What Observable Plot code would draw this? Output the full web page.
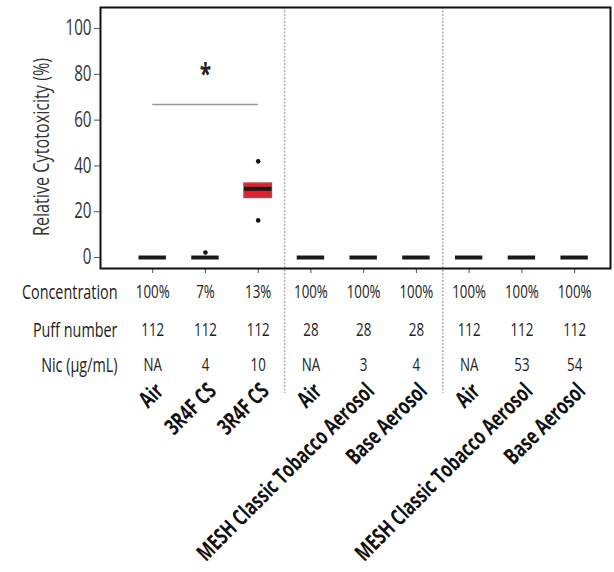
<!DOCTYPE html>
<html>
<head>
<meta charset="utf-8">
<script src="https://cdn.jsdelivr.net/npm/d3@7"></script>
<script src="https://cdn.jsdelivr.net/npm/@observablehq/plot@0.6"></script>
<style>
  html, body { margin: 0; padding: 0; background: #fff; }
  svg { display: block; }
</style>
</head>
<body>
<div id="chart"></div>
<script>
// ---- data ----
const categories = ["Air", "3R4F CS", "3R4F CS", "Air", "MESH Classic Tobacco Aerosol", "Base Aerosol", "Air", "MESH Classic Tobacco Aerosol", "Base Aerosol"];
const concentration = ["100%", "7%", "13%", "100%", "100%", "100%", "100%", "100%", "100%"];
const puffNumber = ["112", "112", "112", "28", "28", "28", "112", "112", "112"];
const nicotine = ["NA", "4", "10", "NA", "3", "4", "NA", "53", "54"];
const q1 = [0, 0, 26, 0, 0, 0, 0, 0, 0];
const median = [0, 0, 30, 0, 0, 0, 0, 0, 0];
const q3 = [0, 0, 32.3, 0, 0, 0, 0, 0, 0];
const outliers = [
  {i: 1, v: 2.2},
  {i: 2, v: 42},
  {i: 2, v: 16.2}
];
const rowLabels = ["Concentration", "Puff number", "Nic (µg/mL)"];
const yTicks = [0, 20, 40, 60, 80, 100];
const groupDividers = [2.5, 5.5];
const significance = {x1: 0, x2: 2, y: 66.8, label: "*", labelY: 82};

// ---- derived table ----
const idx = categories.map((_, i) => i);
const rows = idx.map(i => ({i, cat: categories[i], conc: concentration[i], puff: puffNumber[i], nic: nicotine[i], q1: q1[i], med: median[i], q3: q3[i]}));
const hw = 0.26; // half box width in category units
const rowDy = [24, 62, 97];
const SQUEEZE = 0.72;

const FONT = "'Open Sans', 'Noto Sans', 'DejaVu Sans', sans-serif";

const chart = Plot.plot({
  width: 614,
  height: 572,
  marginLeft: 100,
  marginRight: 4,
  marginTop: 7,
  marginBottom: 304,
  style: {fontFamily: FONT, fontSize: "18px", color: "#222", background: "#fff"},
  x: {type: "linear", domain: [-0.99, 8.68], axis: null},
  y: {domain: [-4.8, 109.2], axis: null},
  marks: [
    // group dividers
    Plot.ruleX(groupDividers, {stroke: "#b0b0b0", strokeWidth: 1.5, strokeDasharray: "2,1.5", insetBottom: -125}),
    // y axis
    Plot.axisY({ticks: yTicks, tickSize: 6, tickPadding: 3, fontSize: 21, stroke: "#555", color: "#333", label: null}),
    Plot.text(["Relative Cytotoxicity (%)"], {frameAnchor: "left", textAnchor: "middle", lineAnchor: "middle", dx: -59, dy: 9, rotate: -90, fontSize: 22.5, fill: "#333"}),
    // x ticks
    Plot.axisX({ticks: idx, tickSize: 5, tickFormat: () => "", stroke: "#555", label: null}),
    // significance bar
    Plot.ruleY([significance], {y: "y", x1: d => d.x1, x2: d => d.x2, stroke: "#999", strokeWidth: 1.5}),
    Plot.text([significance], {x: d => (d.x1 + d.x2) / 2, y: "labelY", text: "label", lineAnchor: "middle", dy: 5, fontSize: 29, fontWeight: "bold", fill: "#222"}),
    // boxes
    Plot.rect(rows.filter(d => d.q3 > d.q1), {x1: d => d.i - hw, x2: d => d.i + hw, y1: "q1", y2: "q3", fill: "#e3202a", stroke: "#a0504f", strokeWidth: 1.5}),
    Plot.ruleY(rows, {y: "med", x1: d => d.i - hw, x2: d => d.i + hw, stroke: "#1a1a1a", strokeWidth: 4}),
    Plot.dot(outliers, {x: "i", y: "v", r: 2.3, fill: "#111", stroke: null}),
    // frame
    Plot.frame({stroke: "#111", strokeWidth: 2}),
    // table rows
    Plot.text(rows, {x: "i", text: "conc", frameAnchor: "bottom", lineAnchor: "middle", dy: rowDy[0], fontSize: 18.5, fill: "#222"}),
    Plot.text(rows, {x: "i", text: "puff", frameAnchor: "bottom", lineAnchor: "middle", dy: rowDy[1], fontSize: 18.5, fill: "#222"}),
    Plot.text(rows, {x: "i", text: "nic", frameAnchor: "bottom", lineAnchor: "middle", dy: rowDy[2], fontSize: 18.5, fill: "#222"}),
    Plot.text([rowLabels[0]], {frameAnchor: "bottom-left", textAnchor: "end", lineAnchor: "middle", dx: 17, dy: rowDy[0], fontSize: 20, fill: "#222"}),
    Plot.text([rowLabels[1]], {frameAnchor: "bottom-left", textAnchor: "end", lineAnchor: "middle", dx: 17, dy: rowDy[1], fontSize: 20, fill: "#222"}),
    Plot.text([rowLabels[2]], {frameAnchor: "bottom-left", textAnchor: "end", lineAnchor: "middle", dx: 17, dy: rowDy[2], fontSize: 20, fill: "#222"}),
    // category labels
    Plot.text(rows, {x: "i", text: "cat", frameAnchor: "bottom", textAnchor: "end", lineAnchor: "bottom", rotate: -45, dx: 12, dy: 124, fontSize: 22.5, fontWeight: "bold", fill: "#111"})
  ]
});

// condensed look: compress every text horizontally around its anchor
d3.select(chart).selectAll("text").each(function () {
  let tx = 0, ty = 0;
  const x = this.getAttribute("x");
  const y = this.getAttribute("y");
  if (x != null) { if (/em$/.test(x)) this.setAttribute("dx", x); else tx = +x || 0; this.removeAttribute("x"); }
  if (y != null) { if (/em$/.test(y)) this.setAttribute("dy", y); else ty = +y || 0; this.removeAttribute("y"); }
  const t = this.getAttribute("transform") || "";
  this.setAttribute("transform", `translate(${tx},${ty}) ${t} scale(${SQUEEZE},1)`);
});
document.getElementById("chart").append(chart);
</script>
</body>
</html>
